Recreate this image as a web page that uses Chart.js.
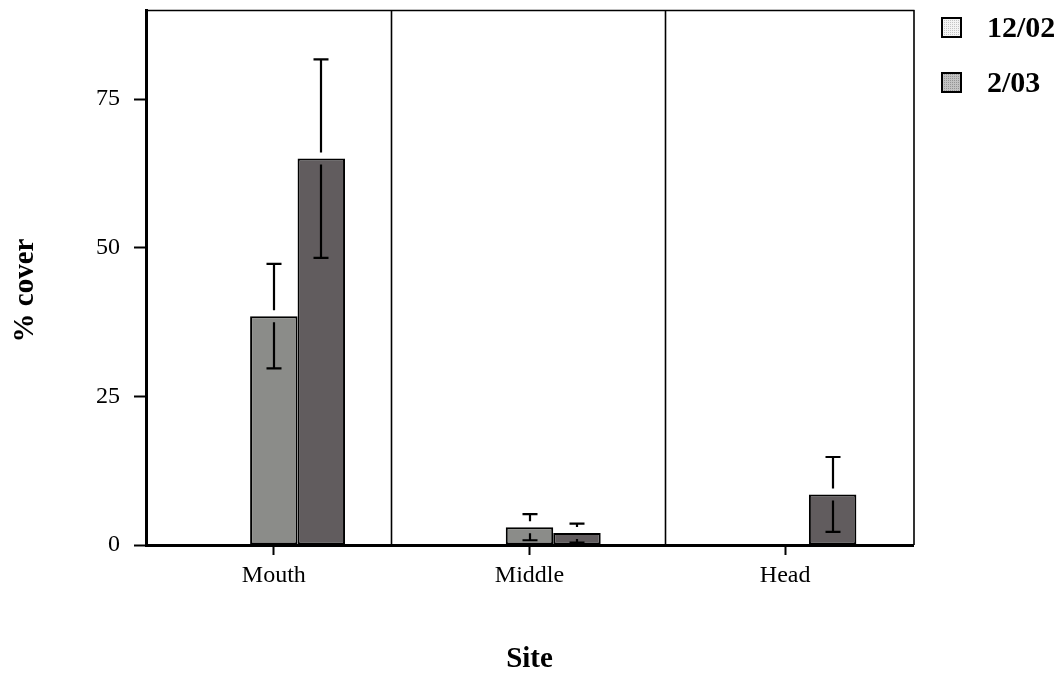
<!DOCTYPE html>
<html>
<head>
<meta charset="utf-8">
<script src="https://cdn.jsdelivr.net/npm/chart.js@4.4.1/dist/chart.umd.min.js"></script>
<style>
  html, body { margin: 0; padding: 0; background: #ffffff; }
  canvas { display: block; }
</style>
</head>
<body>
<canvas id="chart" width="1062" height="673"></canvas>
<script>
// Percent cover by site, two sampling dates (mean and standard error)
const sites = ['Mouth', 'Middle', 'Head'];
const seriesNames = ['12/02', '2/03'];
const cover1202 = [38.5, 3.0, 0];
const se1202 = [8.8, 2.2, 0];
const cover0203 = [65.0, 2.0, 8.5];
const se0203 = [16.7, 1.6, 6.3];
const emptySlot = [null, null, null];   // unused first bar slot in each group
const yTicks = [0, 25, 50, 75];
const yMax = 90;
const dividerPositions = [0.46, 1.53];  // panel separators, in category units
const yTitle = '% cover';
const xTitle = 'Site';

const SERIF = '"Liberation Serif", "Times New Roman", Times, serif';
const BAR_GRAY = '#8b8c89';
const BAR_DARK = '#615c5e';

// stippled fills for the legend keys
function stipple(base, dot) {
  const c = document.createElement('canvas');
  c.width = 2; c.height = 2;
  const g = c.getContext('2d');
  g.fillStyle = base; g.fillRect(0, 0, 2, 2);
  g.fillStyle = dot; g.fillRect(0, 0, 1, 1);
  return g.createPattern(c, 'repeat');
}

const framePlugin = {
  id: 'frame',
  beforeDatasetsDraw(chart) {
    const { ctx, chartArea: a, scales: { x } } = chart;
    ctx.save();
    ctx.strokeStyle = '#000';
    ctx.lineWidth = 1.6;
    ctx.beginPath();
    ctx.moveTo(a.left, a.top + 0.5); ctx.lineTo(a.right + 1.5, a.top + 0.5);
    ctx.moveTo(a.right + 1, a.top); ctx.lineTo(a.right + 1, a.bottom);
    dividerPositions.forEach(p => {
      const px = Math.round(x.getPixelForValue(p)) + 0.5;
      ctx.moveTo(px, a.top); ctx.lineTo(px, a.bottom);
    });
    ctx.stroke();
    ctx.restore();
  }
};

const errorBarPlugin = {
  id: 'errorBars',
  afterDatasetsDraw(chart) {
    const { ctx, scales: { y } } = chart;
    const gap = 6, cap = 7.5;
    ctx.save();
    ctx.strokeStyle = '#000';
    ctx.lineWidth = 2.2;
    chart.data.datasets.forEach((ds, i) => {
      if (!ds.errors) return;
      const meta = chart.getDatasetMeta(i);
      meta.data.forEach((bar, j) => {
        const v = ds.data[j], e = ds.errors[j];
        if (v == null || !e) return;
        const cx = Math.round(bar.x);
        const yTop = y.getPixelForValue(v + e);
        const yBot = y.getPixelForValue(Math.max(v - e, 0));
        const yBar = y.getPixelForValue(v);
        ctx.beginPath();
        ctx.moveTo(cx - cap, yTop); ctx.lineTo(cx + cap, yTop);
        ctx.moveTo(cx, yTop); ctx.lineTo(cx, Math.max(yTop, yBar - gap));
        if (yBot > yBar + gap) { ctx.moveTo(cx, yBar + gap); ctx.lineTo(cx, yBot); }
        ctx.moveTo(cx - cap, yBot); ctx.lineTo(cx + cap, yBot);
        ctx.stroke();
      });
    });
    ctx.restore();
  }
};

// vertical axis title, sitting a little below the middle of the plot
const yTitlePlugin = {
  id: 'yTitle',
  afterDraw(chart) {
    const { ctx, chartArea: a } = chart;
    ctx.save();
    ctx.translate(26, (a.top + a.bottom) / 2 + 13);
    ctx.rotate(-Math.PI / 2);
    ctx.font = 'bold 29px ' + SERIF;
    ctx.fillStyle = '#000';
    ctx.textAlign = 'center';
    ctx.textBaseline = 'middle';
    ctx.fillText(yTitle, 0, 0);
    ctx.restore();
  }
};

const legendPlugin = {
  id: 'sideLegend',
  afterDraw(chart) {
    const { ctx, chartArea: a } = chart;
    const fills = [stipple('#f4f4f4', '#c4c4c4'), stipple('#c2c2c2', '#949494')];
    const boxX = a.right + 29, boxTop = a.top + 8, step = 55, size = 19;
    ctx.save();
    ctx.font = 'bold 30px ' + SERIF;
    ctx.textBaseline = 'middle';
    ctx.textAlign = 'left';
    seriesNames.forEach((name, i) => {
      const by = boxTop + i * step;
      ctx.fillStyle = fills[i];
      ctx.fillRect(boxX, by, size, size);
      ctx.strokeStyle = '#000';
      ctx.lineWidth = 2;
      ctx.strokeRect(boxX, by, size, size);
      ctx.fillStyle = '#000';
      ctx.fillText(name, boxX + 45, by + size / 2 + 2);
    });
    ctx.restore();
  }
};

new Chart(document.getElementById('chart'), {
  type: 'bar',
  data: {
    labels: sites,
    datasets: [
      { label: '', data: emptySlot },
      { label: seriesNames[0], data: cover1202, errors: se1202,
        backgroundColor: BAR_GRAY, borderColor: '#000', borderWidth: 2, borderSkipped: false },
      { label: seriesNames[1], data: cover0203, errors: se0203,
        backgroundColor: BAR_DARK, borderColor: '#000', borderWidth: 2, borderSkipped: false }
    ]
  },
  options: {
    responsive: false,
    devicePixelRatio: 1,
    animation: false,
    layout: { padding: { top: 10, right: 149, bottom: 0, left: 0 } },
    datasets: { bar: { categoryPercentage: 0.557, barPercentage: 1.0 } },
    plugins: { legend: { display: false }, tooltip: { enabled: false } },
    scales: {
      x: {
        offset: true,
        grid: { offset: false, drawOnChartArea: false, drawTicks: true, tickLength: 10, tickWidth: 2, color: '#000' },
        border: { display: true, color: '#000', width: 3 },
        ticks: { color: '#000', padding: 6, font: { family: SERIF, size: 24 } },
        title: { display: true, text: xTitle, color: '#000', padding: { top: 0, bottom: 0 },
                 font: { family: SERIF, size: 29, weight: 'bold', lineHeight: 0.9 } },
        afterFit(s) { s.height = 128; s.paddingLeft = 0; s.paddingRight = 0; }
      },
      y: {
        min: 0, max: yMax,
        afterBuildTicks(s) { s.ticks = yTicks.map(v => ({ value: v })); },
        grid: { drawOnChartArea: false, drawTicks: true, tickLength: 12, tickWidth: 2, color: '#000' },
        border: { display: true, color: '#000', width: 3 },
        ticks: { color: '#000', padding: 14, font: { family: SERIF, size: 24 } },
        afterFit(s) { s.width = 146; s.paddingTop = 0; s.paddingBottom = 0; }
      }
    }
  },
  plugins: [framePlugin, errorBarPlugin, yTitlePlugin, legendPlugin]
});
</script>
</body>
</html>
